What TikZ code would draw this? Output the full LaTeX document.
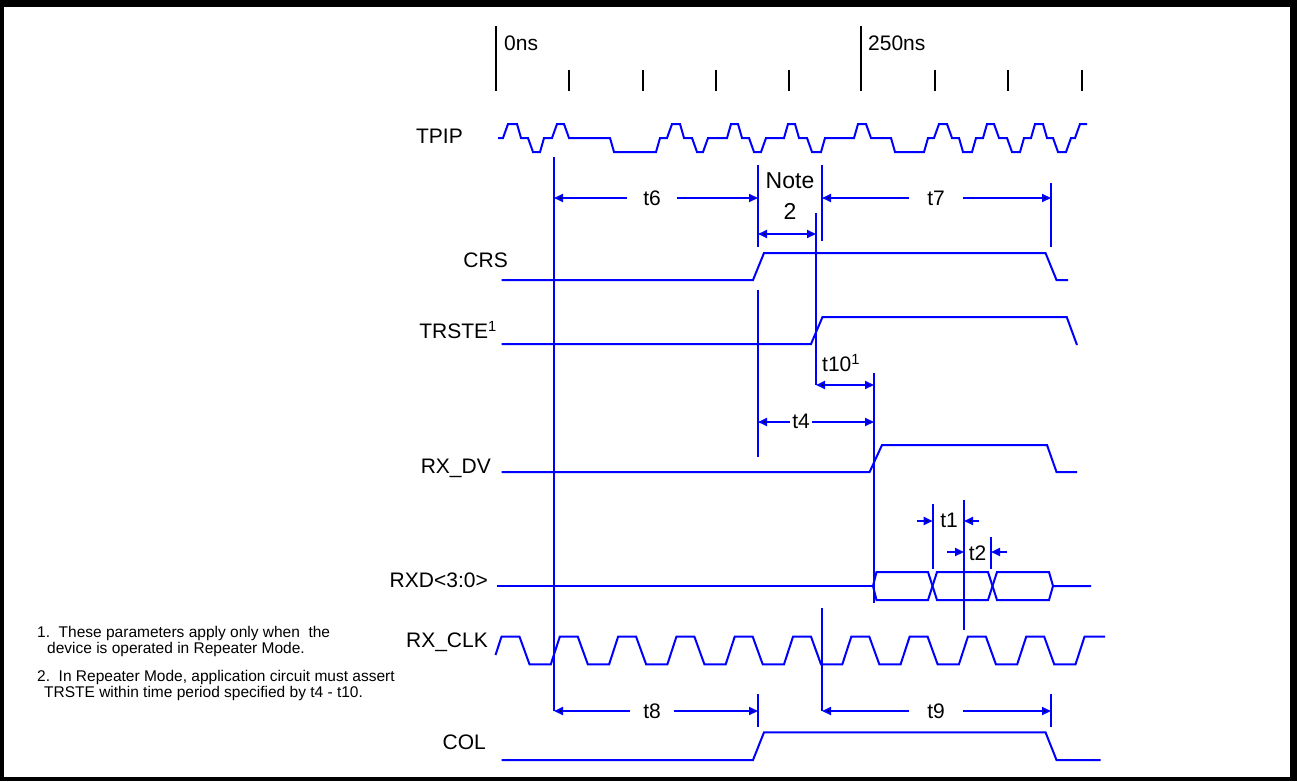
\documentclass[tikz,border=0pt]{standalone}
\usepackage{fontspec}
\setmainfont{Liberation Sans}
\usetikzlibrary{arrows.meta}
\definecolor{wblue}{RGB}{0,0,255}
\begin{document}
\begin{tikzpicture}[x=1pt,y=-1pt,
  wire/.style={wblue,line width=2pt,line join=miter},
  tickline/.style={black,line width=2pt},
  lbl/.style={font=\fontsize{21}{25}\selectfont,inner sep=0pt},
  dimlbl/.style={lbl,inner xsep=#1,inner ysep=2pt},
  dim/.style={wblue,line width=2pt,-{Triangle[length=9pt,width=8pt,fill=black]}},
  ddim/.style={wblue,line width=2pt,{Triangle[length=9pt,width=8pt,fill=black]}-{Triangle[length=9pt,width=8pt,fill=black]}},
  note/.style={font=\fontsize{15.5}{16.5}\selectfont,align=left,anchor=north west,inner sep=0pt}
]
\useasboundingbox (0,0) rectangle (1297,781);
% frame
\fill[black] (0,0) rectangle (1297,7);
\fill[black] (0,0) rectangle (4,781);
\fill[black] (0,777) rectangle (1297,781);
\fill[black] (1290,0) rectangle (1297,781);

% time axis
\coordinate (b0t) at (496,26); \coordinate (b0b) at (496,91);
\coordinate (b1t) at (861,26); \coordinate (b1b) at (861,91);
\draw[tickline] (b0t) -- (b0b);
\draw[tickline] (b1t) -- (b1b);
\foreach \x in {569,643,716,789,935,1008,1082}{
  \draw[tickline] (\x,70) -- (\x,91);
}
\node[lbl,anchor=west] (ns0) at (504,43) {0ns};
\node[lbl,anchor=west] (ns250) at (868,43) {250ns};

% signal labels
\node[lbl,anchor=east] (lTPIP) at (463,136) {TPIP};
\node[lbl,anchor=east] (lCRS) at (508,260) {CRS};
\node[lbl,anchor=east] (lTRSTE) at (497,330) {TRSTE\textsuperscript{1}};
\node[lbl,anchor=east] (lRXDV) at (491,468) {RX\_DV};
\node[lbl,anchor=east] (lRXD) at (488,580) {RXD<3:0>};
\node[lbl,anchor=east] (lRXCLK) at (488,642) {RX\_CLK};
\node[lbl,anchor=east] (lCOL) at (486,742) {COL};

% TPIP
\draw[wire] (498,138) -- (503,138) -- (508,124) -- (517,124) -- (521,138) -- (528,138) -- (533,152) -- (540,152) -- (544,138) -- (552,138) -- (557,124) -- (564,124) -- (569,138) -- (610,138) -- (614,152) -- (656,152) -- (660,138) -- (667,138) -- (672,124) -- (680,124) -- (684,138) -- (692,138) -- (697,152) -- (703,152) -- (708,138) -- (727,138) -- (731,124) -- (738,124) -- (742,138) -- (749,138) -- (754,152) -- (761,152) -- (766,138) -- (784,138) -- (788,124) -- (795,124) -- (799,138) -- (807,138) -- (812,152) -- (821,152) -- (825,138) -- (854,138) -- (858,124) -- (866,124) -- (871,138) -- (891,138) -- (895,152) -- (924,152) -- (928,138) -- (934,138) -- (939,124) -- (947,124) -- (952,138) -- (959,138) -- (963,152) -- (972,152) -- (976,138) -- (983,138) -- (987,124) -- (994,124) -- (999,138) -- (1007,138) -- (1012,152) -- (1020,152) -- (1024,138) -- (1031,138) -- (1035,124) -- (1043,124) -- (1047,138) -- (1053,138) -- (1058,152) -- (1066,152) -- (1071,138) -- (1075,138) -- (1080,124) -- (1087,124);

% CRS
\draw[wire] (501.5,280) -- (753,280) -- (764,253) -- (1045.5,253) -- (1056.5,280) -- (1068,280);
% TRSTE
\draw[wire] (501.5,344) -- (811,344) -- (822.5,317) -- (1066.7,317) -- (1077,345);
% RX_DV
\draw[wire] (501.5,472) -- (869.6,472) -- (882,445) -- (1047,445) -- (1056.5,472) -- (1077,472);
% RXD
\draw[wire] (497,586) -- (873,586);
\draw[wire] (873,586) -- (876.5,572) -- (928,572) -- (937,600) -- (988,600) -- (997,572) -- (1049,572) -- (1053,586) -- (1091,586);
\draw[wire] (873,586) -- (876.5,600) -- (928,600) -- (937,572) -- (988,572) -- (997,600) -- (1049,600) -- (1053,586);
% RX_CLK
\draw[wire] (495.5,655) foreach \k in {0,...,9} { -- ({501.5+58.3*\k},636.7) -- ({519.5+58.3*\k},636.7) -- ({529.5+58.3*\k},664.3) -- ({550.8+58.3*\k},664.3) } -- (1084.5,636.7) -- (1105,636.7);
% COL
\draw[wire] (501.5,760) -- (753,760) -- (764,732.3) -- (1045.5,732.3) -- (1056.5,760) -- (1100.7,760);

% vertical reference lines
\coordinate (v1t) at (554,157); \coordinate (v1b) at (554,711);
\coordinate (nlt) at (758,165); \coordinate (nlb) at (758,247);
\coordinate (nrt) at (822,165); \coordinate (nrb) at (822,241);
\coordinate (t7rt) at (1051,183); \coordinate (t7rb) at (1051,247);
\coordinate (t10lt) at (816,213); \coordinate (t10lb) at (816,385);
\coordinate (t4lt) at (758,290); \coordinate (t4lb) at (758,457);
\coordinate (t4rt) at (874,373); \coordinate (t4rb) at (874,603);
\coordinate (t1lt) at (932.7,504); \coordinate (t1lb) at (932.7,569);
\coordinate (t1rt) at (964,500); \coordinate (t1rb) at (964,630);
\coordinate (t2rt) at (991,537); \coordinate (t2rb) at (991,569);
\coordinate (t9lt) at (822,608); \coordinate (t9lb) at (822,711);
\coordinate (t8rt) at (758,694); \coordinate (t8rb) at (758,727);
\coordinate (t9rt) at (1051,694); \coordinate (t9rb) at (1051,727);
\foreach \a/\b in {v1t/v1b,nlt/nlb,nrt/nrb,t7rt/t7rb,t10lt/t10lb,t4lt/t4lb,t4rt/t4rb,t1lt/t1lb,t1rt/t1rb,t2rt/t2rb,t9lt/t9lb,t8rt/t8rb,t9rt/t9rb}{
  \draw[wire] (\a) -- (\b);
}

% t6 / t7
\node[dimlbl=16pt] (t6) at (652,198) {t6};
\coordinate (t6L) at (554,198); \coordinate (t6R) at (758,198);
\draw[dim] (t6) -- (t6L); \draw[dim] (t6) -- (t6R);
\node[dimlbl=18pt] (t7) at (936,198) {t7};
\coordinate (t7L) at (822,198); \coordinate (t7R) at (1051,198);
\draw[dim] (t7) -- (t7L); \draw[dim] (t7) -- (t7R);
% Note 2
\node[lbl,font=\fontsize{23}{27}\selectfont] (note) at (790,181) {Note};
\node[lbl,font=\fontsize{23}{27}\selectfont] (note2) at (790,211) {2};
\coordinate (n2L) at (758,234); \coordinate (n2R) at (816,234);
\draw[ddim] (n2L) -- (n2R);
% t10
\node[lbl,anchor=west] (t10) at (822,363) {t10\textsuperscript{1}};
\coordinate (t10L) at (816,385); \coordinate (t10R) at (874,385);
\draw[ddim] (t10L) -- (t10R);
% t4
\node[dimlbl=2pt] (t4) at (801,421) {t4};
\coordinate (t4L) at (758,422); \coordinate (t4R) at (874,422);
\draw[dim] (t4.west |- t4L) -- (t4L); \draw[dim] (t4.east |- t4R) -- (t4R);
% t1 / t2
\node[lbl] (t1) at (949,520) {t1};
\coordinate (t1a) at (917,521); \coordinate (t1b) at (932.7,521);
\coordinate (t1c) at (979,521); \coordinate (t1d) at (964,521);
\draw[dim] (t1a) -- (t1b); \draw[dim] (t1c) -- (t1d);
\node[lbl] (t2) at (977.5,553) {t2};
\coordinate (t2a) at (947,552); \coordinate (t2b) at (964,552);
\coordinate (t2c) at (1007,552); \coordinate (t2d) at (991,552);
\draw[dim] (t2a) -- (t2b); \draw[dim] (t2c) -- (t2d);
% t8 / t9
\node[dimlbl=13pt] (t8) at (652,711) {t8};
\coordinate (t8L) at (554,711); \coordinate (t8R) at (758,711);
\draw[dim] (t8) -- (t8L); \draw[dim] (t8) -- (t8R);
\node[dimlbl=18pt] (t9) at (936,711) {t9};
\coordinate (t9L) at (822,711); \coordinate (t9R) at (1051,711);
\draw[dim] (t9) -- (t9L); \draw[dim] (t9) -- (t9R);

% footnotes
\node[note] (fn1) at (37,626) {1.\ \ These parameters apply only when\ \ the\\\hspace*{10pt}device is operated in Repeater Mode.};
\node[note] (fn2) at (37,670) {2.\ \ In Repeater Mode, application circuit must assert\\\hspace*{7pt}TRSTE within time period specified by t4 - t10.};
\end{tikzpicture}
\end{document}
